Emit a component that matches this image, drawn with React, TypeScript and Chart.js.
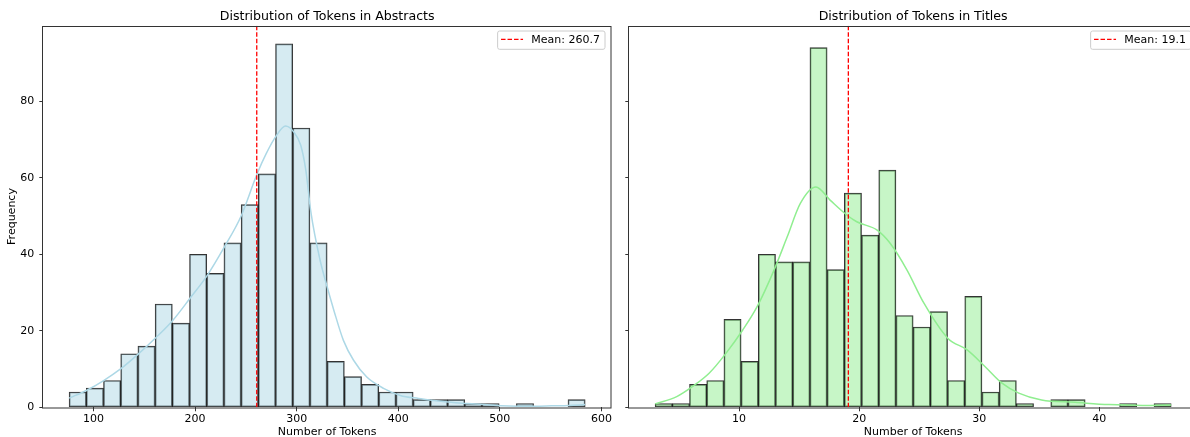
import React, { useEffect, useRef } from 'react';
import { Chart, registerables } from 'chart.js';

Chart.register(...registerables);

// ---------- data ----------
const abstractMinTokens = 76;
const abstractMaxTokens = 584;
const abstractCounts = [4, 5, 7, 14, 16, 27, 22, 40, 35, 43, 53, 61, 95, 73, 43, 12, 8, 6, 4, 4, 2, 2, 2, 1, 1, 0, 1, 0, 0, 2];
const abstractMean = 260.7;
const abstractKdeX = [76, 93, 110, 127, 144, 161, 178, 195, 212, 229, 245, 261, 270, 280, 289, 297, 304, 309, 314, 323, 330, 337, 346, 356, 369, 386, 402, 420, 435, 452, 468, 485, 501, 518, 535, 551, 568, 584];
const abstractKdeY = [2.4, 4.4, 7.0, 10.1, 13.9, 18.1, 22.7, 28.5, 34.5, 42, 49.8, 61, 66.3, 71, 73.5, 72, 68.5, 62, 51, 38.5, 31.5, 25, 17.5, 12.3, 7.9, 4.9, 3.1, 2.3, 1.8, 1.3, 1.0, 0.7, 0.4, 0.3, 0.3, 0.4, 0.5, 0.7];
const abstractXTicks = [100, 200, 300, 400, 500, 600];

const titleMinTokens = 3;
const titleMaxTokens = 46;
const titleCounts = [1, 1, 6, 7, 23, 12, 40, 38, 38, 94, 36, 56, 45, 62, 24, 21, 25, 7, 29, 4, 7, 1, 0, 2, 2, 0, 0, 1, 0, 1];
const titleMean = 19.1;
const titleKdeX = [3, 4.8, 6.1, 7.5, 8.9, 10.3, 11.5, 12.9, 14.0, 15.1, 16.4, 17.6, 19.0, 19.8, 21.5, 22.6, 24.0, 25.4, 27.4, 29.0, 30.5, 31.9, 33.3, 35.2, 38.0, 40.8, 43.6, 46];
const titleKdeY = [0.9, 2.8, 5.4, 8.9, 14.1, 20.2, 26.3, 35.8, 44.5, 53.3, 57.6, 54.1, 50.2, 48.5, 46.3, 42.8, 35.8, 27.2, 18.0, 15.0, 10.6, 6.3, 3.7, 1.9, 1.3, 0.7, 0.5, 0.6];
const titleXTicks = [10, 20, 30, 40];

const frequencyTicks = [0, 20, 40, 60, 80];

const FONT = 'DejaVu Sans';

const framePlugin = {
  id: 'frameAndLegend',
  afterDraw(chart: any) {
    const { ctx, chartArea: a } = chart;
    const opts = chart.options.plugins.frameAndLegend || {};
    ctx.save();
    ctx.strokeStyle = '#333';
    ctx.lineWidth = 1;
    ctx.strokeRect(Math.round(a.left) - 0.5, Math.round(a.top) + 0.5, Math.round(a.right - a.left) + 0.5, Math.round(a.bottom - a.top) - 0.5);
    // axes title, centred on the plot area
    if (opts.title) {
      ctx.font = `12.6px "${FONT}"`;
      ctx.fillStyle = '#000';
      ctx.textAlign = 'center';
      ctx.textBaseline = 'alphabetic';
      ctx.fillText(opts.title, (a.left + a.right) / 2, a.top - 5.8);
    }
    if (opts.text) {
      ctx.font = `11px "${FONT}"`;
      const tw = ctx.measureText(opts.text).width;
      const w = 33.7 + tw + 5;
      const h = 18.3;
      const right = a.right - 6;
      const left = right - w;
      const top = a.top + 5.3;
      const r = 2;
      ctx.beginPath();
      ctx.moveTo(left + r, top);
      ctx.lineTo(left + w - r, top);
      ctx.quadraticCurveTo(left + w, top, left + w, top + r);
      ctx.lineTo(left + w, top + h - r);
      ctx.quadraticCurveTo(left + w, top + h, left + w - r, top + h);
      ctx.lineTo(left + r, top + h);
      ctx.quadraticCurveTo(left, top + h, left, top + h - r);
      ctx.lineTo(left, top + r);
      ctx.quadraticCurveTo(left, top, left + r, top);
      ctx.closePath();
      ctx.fillStyle = 'rgba(255,255,255,0.8)';
      ctx.fill();
      ctx.strokeStyle = '#cccccc';
      ctx.lineWidth = 1;
      ctx.stroke();
      ctx.beginPath();
      ctx.setLineDash([4.5, 2]);
      ctx.strokeStyle = 'red';
      ctx.lineWidth = 1.3;
      ctx.moveTo(left + 3.4, top + 8.3);
      ctx.lineTo(left + 25.4, top + 8.3);
      ctx.stroke();
      ctx.setLineDash([]);
      ctx.fillStyle = '#000';
      ctx.textBaseline = 'alphabetic';
      ctx.textAlign = 'left';
      ctx.fillText(opts.text, left + 33.7, top + 12.4);
    }
    ctx.restore();
  },
};

type PanelProps = {
  minTokens: number;
  maxTokens: number;
  counts: number[];
  mean: number;
  kdeX: number[];
  kdeY: number[];
  xTicks: number[];
  fill: string;
  line: string;
  title: string;
  showYLabels: boolean;
  yAxisWidth: number;
  padRight: number;
  width: number;
  left: number;
};

const CANVAS_H = 440;

function Panel(p: PanelProps) {
  const ref = useRef<HTMLCanvasElement | null>(null);
  useEffect(() => {
    if (!ref.current) return;
    const nb = p.counts.length;
    const bw = (p.maxTokens - p.minTokens) / nb;
    const span = p.maxTokens - p.minTokens;
    const xMin = p.minTokens - 0.05 * span;
    const xMax = p.maxTokens + 0.05 * span;
    const yMax = Math.max(...abstractCounts, ...titleCounts) * 1.05;
    const bars = p.counts.map((c, i) => ({ x: p.minTokens + (i + 0.5) * bw, y: c }));
    const kde = p.kdeX.map((x, i) => ({ x, y: p.kdeY[i] }));
    const chart = new Chart(ref.current, {
      type: 'bar',
      data: {
        datasets: [
          {
            type: 'line',
            label: 'mean',
            data: [{ x: p.mean, y: 0 }, { x: p.mean, y: yMax }],
            borderColor: 'red',
            borderWidth: 1.3,
            borderDash: [4.5, 2],
            pointRadius: 0,
            order: 0,
          } as any,
          {
            type: 'line',
            label: 'kde',
            data: kde,
            borderColor: p.line,
            borderWidth: 1.5,
            pointRadius: 0,
            cubicInterpolationMode: 'monotone',
            order: 1,
          } as any,
          {
            type: 'bar',
            label: 'hist',
            data: bars,
            backgroundColor: p.fill,
            borderColor: 'rgba(0,0,0,0.8)',
            borderWidth: 1,
            borderSkipped: false,
            barPercentage: 1,
            categoryPercentage: 1,
            grouped: false,
            order: 2,
          } as any,
        ],
      },
      options: {
        animation: false,
        responsive: false,
        devicePixelRatio: 1,
        layout: { padding: { left: 0, right: p.padRight, top: 25.7, bottom: 0 } },
        plugins: {
          legend: { display: false },
          tooltip: { enabled: false },
          title: { display: false },
          frameAndLegend: { text: `Mean: ${p.mean}`, title: p.title },
        } as any,
        scales: {
          x: {
            type: 'linear',
            min: xMin,
            max: xMax,
            offset: false,
            afterBuildTicks: (s: any) => {
              s.ticks = p.xTicks.map((v) => ({ value: v }));
            },
            afterFit: (s: any) => {
              s.height = CANVAS_H - 407.3;
            },
            ticks: {
              color: '#000',
              font: { family: FONT, size: 11 },
              padding: 1,
              maxRotation: 0,
              autoSkip: false,
              callback: (v: any) => String(v),
            },
            grid: { display: true, offset: false, drawOnChartArea: false, drawTicks: true, tickLength: 4, color: '#333' },
            border: { display: false },
            title: {
              display: true,
              text: 'Number of Tokens',
              color: '#000',
              font: { family: FONT, size: 11 },
              padding: { top: 0, bottom: 1.4 },
            },
          },
          y: {
            type: 'linear',
            min: 0,
            max: yMax,
            afterBuildTicks: (s: any) => {
              s.ticks = frequencyTicks.map((v) => ({ value: v }));
            },
            afterFit: (s: any) => {
              s.width = p.yAxisWidth;
            },
            ticks: {
              color: '#000',
              font: { family: FONT, size: 11 },
              padding: 5,
              autoSkip: false,
              callback: (v: any) => (p.showYLabels ? String(v) : ''),
            },
            grid: { display: true, drawOnChartArea: false, drawTicks: true, tickLength: 4, color: '#333' },
            border: { display: false },
            title: {
              display: p.showYLabels,
              text: 'Frequency',
              color: '#000',
              font: { family: FONT, size: 11 },
              padding: { top: 6, bottom: 0 },
            },
          },
        },
      } as any,
      plugins: [framePlugin as any],
    });
    return () => chart.destroy();
  }, []);
  return (
    <canvas
      ref={ref}
      width={p.width}
      height={CANVAS_H}
      style={{ position: 'absolute', left: p.left, top: 0, width: p.width, height: CANVAS_H }}
    />
  );
}

export default function App() {
  return (
    <div
      style={{
        position: 'fixed',
        left: 0,
        top: 0,
        width: 1190,
        height: 437,
        overflow: 'hidden',
        background: '#fff',
      }}
    >
      <Panel
        minTokens={abstractMinTokens}
        maxTokens={abstractMaxTokens}
        counts={abstractCounts}
        mean={abstractMean}
        kdeX={abstractKdeX}
        kdeY={abstractKdeY}
        xTicks={abstractXTicks}
        fill="rgba(173,216,230,0.5)"
        line="#ADD8E6"
        title="Distribution of Tokens in Abstracts"
        showYLabels={true}
        yAxisWidth={43.3}
        padRight={9}
        width={620}
        left={0}
      />
      <Panel
        minTokens={titleMinTokens}
        maxTokens={titleMaxTokens}
        counts={titleCounts}
        mean={titleMean}
        kdeX={titleKdeX}
        kdeY={titleKdeY}
        xTicks={titleXTicks}
        fill="rgba(144,238,144,0.5)"
        line="#90EE90"
        title="Distribution of Tokens in Titles"
        showYLabels={false}
        yAxisWidth={9.3}
        padRight={9}
        width={586}
        left={620}
      />
    </div>
  );
}
